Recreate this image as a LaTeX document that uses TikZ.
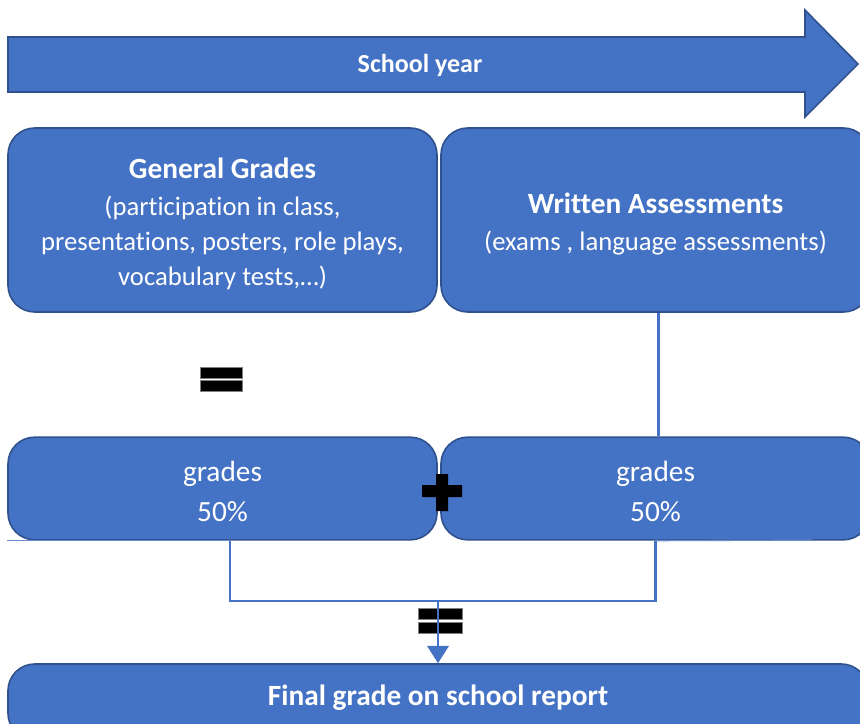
\documentclass[tikz,border=0pt]{standalone}
\usepackage{fontspec}
\setmainfont{Carlito}[Ligatures=NoCommon]
\usetikzlibrary{positioning,arrows.meta}
\definecolor{officeblue}{HTML}{4472C4}
\definecolor{edgeblue}{HTML}{2F528F}

\begin{document}
\begin{tikzpicture}[x=0.75pt,y=-0.75pt,
   block/.style={draw=edgeblue,line width=1.2pt,fill=officeblue,rounded corners=20pt,
                 text=white,align=center,inner sep=0pt,minimum width=321.75pt},
   link/.style={draw=officeblue,line width=2.2pt},
   bar/.style={fill=black,draw=gray,line width=0.6pt}]
   \useasboundingbox (0,0) rectangle (860,724);

   % school year arrow
   \draw[fill=officeblue,draw=edgeblue,line width=1.2pt]
        (8,37) -- (805,37) -- (805,10) -- (858,64) -- (805,117) -- (805,92) -- (8,92) -- cycle;
   \node[text=white,font=\fontsize{19.5}{22}\selectfont\bfseries] (year) at (420,65) {School year};

   \node[block,minimum height=138pt,font=\fontsize{20}{26}\selectfont] (gen)  at (222.5,220)
        {\fontsize{22}{26}\selectfont\rule{0pt}{21pt}\textbf{General Grades}\\[2pt](participation in class,\\presentations, posters, role plays,\\vocabulary tests,\dots)};
   \node[block,minimum height=138pt,font=\fontsize{20}{27.5}\selectfont] (writ) at (655.5,220)
        {\fontsize{22}{27.5}\selectfont\rule{0pt}{21pt}\textbf{Written Assessments}\\(exams , language assessments)};

   \node[block,minimum height=77pt,font=\fontsize{22}{30}\selectfont] (gl) at (222.5,488.5) {\rule{0pt}{20pt}grades\\50\%};
   \node[block,minimum height=77pt,font=\fontsize{22}{30}\selectfont] (gr) at (655.5,488.5) {\rule{0pt}{20pt}grades\\50\%};

   \node[block,minimum width=645pt,minimum height=57pt] (final) at (438,702) {};
   \node[text=white,font=\fontsize{22}{24}\selectfont\bfseries] (flabel) at (438,698) {Final grade on school report};

   % equal and plus signs
   \draw[bar] (200,367) rectangle (242,378);
   \draw[bar] (200,380) rectangle (242,391);
   \fill (422,485) -- (436,485) -- (436,474) -- (448,474) -- (448,485) -- (462,485) -- (462,497)
         -- (448,497) -- (448,511) -- (436,511) -- (436,497) -- (422,497) -- cycle;
   \draw[bar] (418,608) rectangle (462,619);
   \draw[bar] (418,622) rectangle (462,633);

   % connectors
   \coordinate (join) at (438,601);
   \coordinate (gldrop) at ([xshift=5.6pt]gl.south);
   \draw[link] ([xshift=2pt]writ.south) -- ([xshift=2pt]gr.north);
   \draw[link] (gldrop) -- (gldrop |- join) -- (gr.south |- join) -- (gr.south);
   \draw[link,-{Triangle[length=13pt,width=16pt]}] (join) -- (final.north -| join);
   \draw[draw=officeblue!80,line width=1pt] (gl.south west) -- (gldrop);
   \draw[draw=officeblue!80,line width=1pt] (gr.south) -- (812,540);
\end{tikzpicture}
\end{document}
